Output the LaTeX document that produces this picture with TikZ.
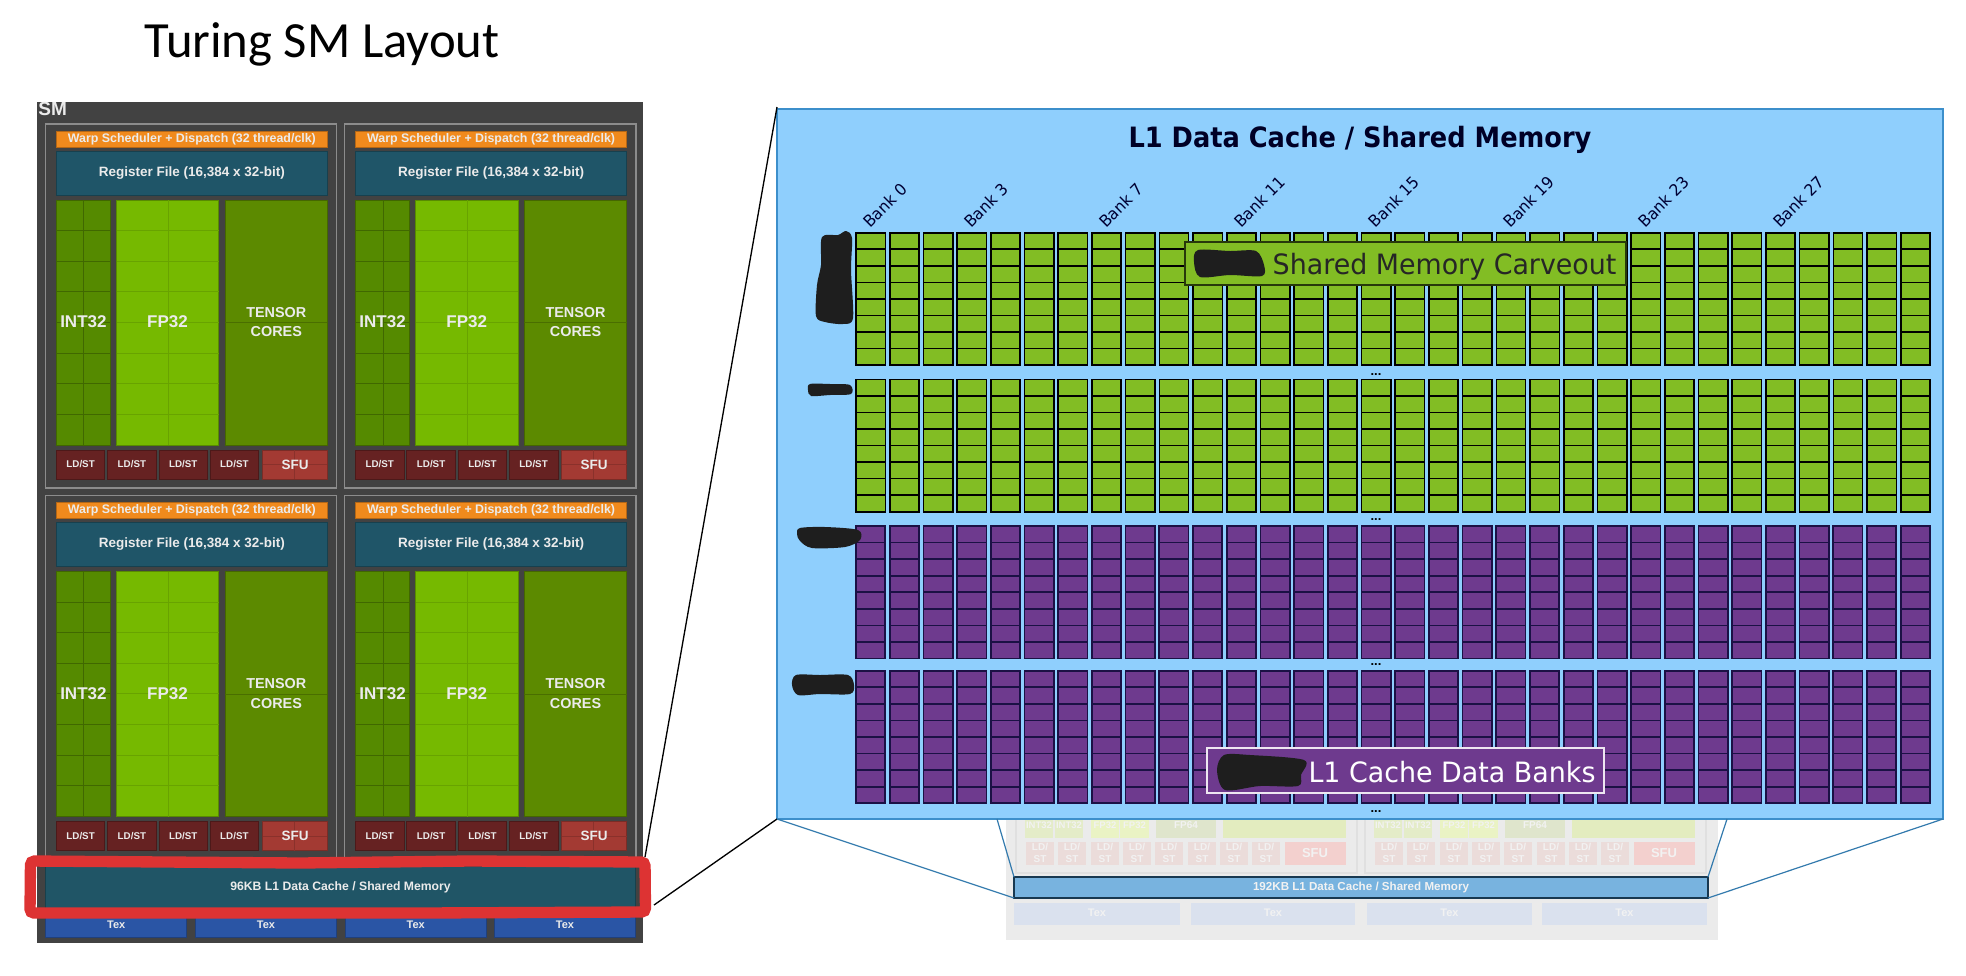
\documentclass[tikz,border=0pt]{standalone}
\usepackage{fontspec}
\setmainfont{Liberation Sans}
\newfontfamily\handfont{Carlito}
\newfontfamily\verafont[FakeStretch=0.96]{DejaVu Sans}
\newfontfamily\veranarrow[FakeStretch=0.917]{DejaVu Sans}
\newcommand{\px}[1]{\fontsize{\fpeval{#1*3/4}}{\fpeval{#1*0.9}}\selectfont}
\definecolor{smgrey}{HTML}{424242}
\definecolor{framegrey}{HTML}{8C8C8C}
\definecolor{warporange}{HTML}{F08A1D}
\definecolor{regteal}{HTML}{1F5568}
\definecolor{intgreen}{HTML}{558A00}
\definecolor{fpgreen}{HTML}{76B900}
\definecolor{tensgreen}{HTML}{5C8A00}
\definecolor{ldred}{HTML}{662222}
\definecolor{sfured}{HTML}{A33A33}
\definecolor{texblue}{HTML}{2A55A5}
\definecolor{barteal}{HTML}{205566}
\definecolor{markred}{HTML}{DD3333}
\definecolor{skyblue}{HTML}{8FCFFD}
\definecolor{edgeblue}{HTML}{3C8FCB}
\definecolor{bankgreen}{HTML}{82BD24}
\definecolor{bankpurple}{HTML}{6E3A8E}
\definecolor{bankink}{HTML}{1B1145}
\definecolor{inkblob}{HTML}{1E1E1E}
\definecolor{fadepanel}{HTML}{EBEBEB}
\definecolor{fadeframe}{HTML}{E0E0E0}
\definecolor{fadeint}{HTML}{E4ECC8}
\definecolor{fadefp}{HTML}{EAF3C4}
\definecolor{fadefpwide}{HTML}{DFE5CC}
\definecolor{fadecore}{HTML}{E3ECBF}
\definecolor{fadeld}{HTML}{EBDCDA}
\definecolor{fadesfu}{HTML}{F3D0CE}
\definecolor{fadetexbox}{HTML}{DAE1EE}
\definecolor{fadebarblue}{HTML}{78B3DF}
\tikzset{every picture/.style={line width=0.75pt},
  blk/.style={draw=#1!75!black,fill=#1,line width=0.75pt},
  lbl/.style={inner sep=0pt,text=white!92!black,font=\bfseries},
  faintlbl/.style={inner sep=0pt,text=white!95!black,font=\bfseries},
  greencol/.style={draw=black,fill=bankgreen,line width=1.2pt},
  purplecol/.style={draw=bankink,fill=bankpurple,line width=1.3pt},
  blob/.style={fill=inkblob,draw=none},
  zoomline/.style={draw=edgeblue!85!black,line width=0.9pt},
}
\begin{document}
\begin{tikzpicture}[x=0.75pt,y=0.75pt,yscale=-1,xscale=1]
\useasboundingbox (0,0) rectangle (1966,975);

% Text Node
\node (title) [anchor=base,inner sep=0pt,font=\handfont\px{50.7}] at (322,57) {Turing SM Layout};

%Shape: SM panel
\fill [smgrey] (37,102) rectangle (643,943);
\node (smname) [lbl,anchor=north west,font=\bfseries\px{19}] at (38,102) {SM};

\foreach \sx/\sy/\sa in {0/0/a,299.2/0/b,0/371.5/c,299.2/371.5/d}{
\begin{scope}[shift={(\sx,\sy)}]
%Shape: frame
\draw [framegrey,line width=1pt] (45.5,124) rectangle (336.7,488);
\draw [blk=warporange] (56.4,131) rectangle (327.4,147) node (warp\sa) [midway,lbl,font=\bfseries\px{12.4}] {Warp Scheduler + Dispatch (32 thread/clk)};
\draw [blk=regteal] (56.4,151) rectangle (327.4,195) node (reg\sa) [midway,lbl,font=\bfseries\px{13.5}] {Register File (16,384 x 32-bit)};
\draw [blk=intgreen] (56.4,200) rectangle (110.3,445);
\draw [blk=fpgreen] (116.6,200) rectangle (218.9,445);
\draw [blk=tensgreen] (225.2,200) rectangle (327.4,445);
%Shape: Grid
\foreach \r in {1,...,7}{
\draw [intgreen!75!black] (56.4,200+\r*30.6) -- (110.3,200+\r*30.6);
\draw [fpgreen!88!black] (116.6,200+\r*30.6) -- (218.9,200+\r*30.6);
}
\draw [intgreen!75!black] (83.8,200) -- (83.8,445);
\draw [fpgreen!88!black] (168.3,200) -- (168.3,445);
\draw [tensgreen!80!black] (225.2,322.5) -- (327.4,322.5);
% Text Node
\node (int\sa) [lbl,font=\bfseries\px{17}] at (83.4,322) {INT32};
\node (fp\sa) [lbl,font=\bfseries\px{17}] at (167.5,322) {FP32};
\node (tens\sa) [lbl,font=\bfseries\px{14.4},align=center] at (276.3,322) {TENSOR\\[1.5pt]CORES};
%Shape: load store row
\foreach \n/\lx/\rx in {1/56.4/104.8,2/107.7/156.1,3/159/207.5,4/210/258.8}{
\draw [blk=ldred] (\lx,450) rectangle (\rx,479) node (ld\sa\n) [midway,lbl,font=\bfseries\px{9.8}] {LD/ST};
}
\draw [blk=sfured] (262.6,450) rectangle (327.4,479);
\draw [sfured!85!black] (294.6,450) -- (294.6,479) (262.6,464.5) -- (327.4,464.5);
\node (sfu\sa) [lbl,font=\bfseries\px{13.5}] at (295,464.5) {SFU};
\end{scope}
}

%Shape: texture units and shared bar
\foreach \n/\lx/\rx in {1/45.5/186.9,2/195.3/336.7,3/345/486.5,4/494.5/635.5}{
\draw [blk=texblue] (\lx,908) rectangle (\rx,937);
\node (tex\n) [lbl,font=\bfseries\px{11}] at ({(\lx+\rx)/2},925) {Tex};
}
\draw [blk=barteal] (45.5,866) rectangle (635.5,908) node (l1bar) [midway,lbl,font=\bfseries\px{12.2}] {96KB L1 Data Cache / Shared Memory};

%Shape: hand drawn red mark
\draw [markred,line width=8.5pt,rounded corners=3pt,line cap=round] (30.5,861) -- (300,863) -- (470,861) -- (645,862) -- (645.5,912) -- (420,913) -- (30,913) -- cycle;

%Shape: faded SM behind the zoom
\fill [fadepanel] (1006,800) rectangle (1718,940);
\foreach \fx/\fa in {0/l,349/r}{
\begin{scope}[shift={(\fx,0)}]
\draw [fadeframe,line width=1pt] (1016,800) rectangle (1357,873);
\foreach \n/\lx/\rx/\ftxt/\fc in {1/1025/1053/INT32/fadeint,2/1055/1083/INT32/fadeint,3/1091/1119/FP32/fadefp,4/1120/1149/FP32/fadefp}{
\fill [\fc] (\lx,810) rectangle (\rx,838);
\node (small\fa\n) [faintlbl,font=\bfseries\px{9.5}] at ({(\lx+\rx)/2},825) {\ftxt};
}
\fill [fadefpwide] (1156,810) rectangle (1216,838);
\node (fpsixfour\fa) [faintlbl,font=\bfseries\px{10}] at (1186,825) {FP64};
\fill [fadecore] (1223,810) rectangle (1346,838);
\foreach \n/\lx in {1/1026,2/1058,3/1091,4/1123,5/1155,6/1188,7/1220,8/1252}{
\fill [fadeld] (\lx,842) rectangle ++(28,23);
\node (fadeld\fa\n) [faintlbl,font=\bfseries\px{10},align=center] at (\lx+14,853) {LD/\\ST};
}
\fill [fadesfu] (1285,842) rectangle (1346,865);
\node (fadesfu\fa) [faintlbl,font=\bfseries\px{13}] at (1315,853) {SFU};
\end{scope}
}
\foreach \n/\lx/\rx in {1/1014/1180,2/1191/1355,3/1367/1532,4/1542/1707}{
\fill [fadetexbox] (\lx,903) rectangle (\rx,925);
\node (fadetex\n) [faintlbl,font=\bfseries\px{11}] at ({(\lx+\rx)/2},913) {Tex};
}
\draw [fill=fadebarblue,draw=black!60!edgeblue,line width=1pt] (1014,877) rectangle (1708,898) node (fadebar) [midway,faintlbl,font=\bfseries\px{11.6}] {192KB L1 Data Cache / Shared Memory};

%Shape: zoomed panel
\draw [fill=skyblue,draw=edgeblue,line width=1.2pt] (777,109) rectangle (1943,819);
\coordinate (panelnw) at (777,107);
\coordinate (panelsw) at (777,819);
\coordinate (panelse) at (1943,819);
\coordinate (inleft) at (997,819);
\coordinate (inright) at (1727,819);
\coordinate (markne) at (645,857);
\coordinate (markse) at (654,905);
\coordinate (barsw) at (1014,898);
\coordinate (barse) at (1708,898);
\coordinate (barnw) at (1014,877);
\coordinate (barne) at (1708,877);
%Straight Lines
\draw [black,line width=1pt] (markne) -- (panelnw);
\draw [black,line width=1pt] (markse) -- (panelsw);
\draw [zoomline] (panelsw) -- (barsw);
\draw [zoomline] (panelse) -- (barse);
\draw [zoomline] (inleft) -- (barnw);
\draw [zoomline] (inright) -- (barne);

% Text Node
\node (l1title) [inner sep=0pt,anchor=base,text=black!85!blue,font=\veranarrow\bfseries\px{28}] at (1360,147) {L1 Data Cache / Shared Memory};

%Shape: bank columns
\foreach \g/\gy/\gs in {1/232.7/greencol,2/379.3/greencol,3/526/purplecol,4/670.7/purplecol}{
\foreach \c in {0,...,31}{
\pgfmathsetmacro{\cx}{856+33.7*\c}
\draw [\gs] (\cx,\gy) rectangle ++(29.3,132.5);
\foreach \r in {1,...,7}{
\draw [\gs] (\cx,\gy+\r*16.56) -- ++(29.3,0);
}
}
}
\foreach \b in {0,3,7,11,15,19,23,27}{
\pgfmathsetmacro{\bx}{870.5+33.7*\b}
\node (bank\b) [rotate=45,anchor=south west,inner sep=0pt,text=black!80!blue,font=\verafont\px{16.2}] at (\bx,229.5) {Bank \b};
}
\foreach \d/\dy in {1/375,2/520,3/665,4/812}{
\node (dots\d) [inner sep=0pt,font=\bfseries\px{13}] at (1376,\dy) {...};
}

%Shape: carveout label
\draw [fill=bankgreen,draw=bankgreen!30!black,line width=1pt] (1185,242) rectangle (1626,285);
\node (carveout) [anchor=base east,inner sep=0pt,text=black!85,font=\verafont\px{28}] at (1617,274) {Shared Memory Carveout};
\draw [fill=bankpurple,draw=white!88!bankpurple,line width=1.2pt] (1207,748) rectangle (1604,793);
\node (banks) [anchor=base east,inner sep=0pt,text=white,font=\verafont\px{28}] at (1596,782) {L1 Cache Data Banks};

%Shape: blacked out marks
\fill [blob] plot [smooth cycle,tension=0.5] coordinates {(822,237) (838,235) (846,231) (852,238) (851,270) (853,318) (843,324) (825,322) (816,316) (817,285) (821,265)};
\fill [blob] plot [smooth cycle,tension=0.5] coordinates {(810,384) (830,384) (850,385) (851,394) (830,395) (811,396) (808,390)};
\fill [blob] plot [smooth cycle,tension=0.5] coordinates {(800,528) (825,527) (858,530) (860,540) (845,547) (812,548) (800,541) (797,534)};
\fill [blob] plot [smooth cycle,tension=0.5] coordinates {(796,675) (820,675) (848,675) (854,685) (850,694) (820,694) (798,695) (792,685)};
\fill [blob] plot [smooth cycle,tension=0.5] coordinates {(1198,250) (1230,251) (1256,251) (1264,265) (1262,276) (1230,275) (1200,277) (1194,262)};
\fill [blob] plot [smooth cycle,tension=0.5] coordinates {(1224,755) (1250,755) (1304,760) (1301,775) (1298,786) (1260,786) (1225,790) (1217,770)};
\end{tikzpicture}
\end{document}
